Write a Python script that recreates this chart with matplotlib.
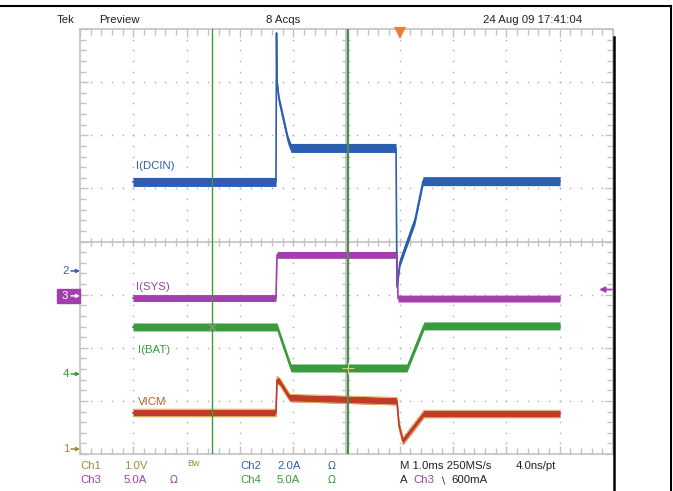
import matplotlib
matplotlib.use('Agg')
import matplotlib.pyplot as plt
from matplotlib.lines import Line2D
from matplotlib.patches import Rectangle
import numpy as np

plt.rcParams['font.family'] = ['Liberation Sans Narrow', 'Liberation Sans', 'DejaVu Sans']

# time base 1 ms/div, trigger at t = 0
t_start, t_end = -6.0, 4.0

# channel scale (unit/div) and ground marker (div from bottom)
ch1_scale, ch1_ground = 1.0, 0.094   # VICM [V]
ch2_scale, ch2_ground = 2.0, 3.446   # I(DCIN) [A]
ch3_scale, ch3_ground = 5.0, 2.976   # I(SYS) [A]
ch4_scale, ch4_ground = 5.0, 1.507   # I(BAT) [A]

# traces (time in ms)
dcin_t = [-5.006, -2.323, -2.313, -2.304, -2.266, -2.098, -2.041, -0.071, -0.053, 0.004, 0.285, 0.435, 3.006]
dcin_a = [3.35, 3.35, 8.96, 7.12, 6.44, 4.93, 4.63, 4.63, -0.6, 0.34, 1.92, 3.38, 3.38]

sys_t = [-5.006, -2.323, -2.304, -0.053, -0.034, 3.006]
sys_a = [-0.2, -0.2, 3.86, 3.86, -0.25, -0.25]

bat_t = [-5.006, -2.304, -2.041, 0.135, 0.454, 3.006]
bat_a = [4.42, 4.42, 0.56, 0.56, 4.52, 4.52]

vicm_t = [-5.006, -2.323, -2.304, -2.248, -2.06, -0.053, -0.015, 0.06, 0.454, 3.006]
vicm_v = [0.68, 0.68, 1.30, 1.26, 0.96, 0.90, 0.45, 0.15, 0.66, 0.66]

grey = '#c2c2c2'
c_blue = '#2d5fb0'
c_purple = '#a23fac'
c_green = '#3a9a3e'
c_red = '#c23a28'
c_olive = '#a08a3a'

fig = plt.figure(figsize=(6.73, 4.91), dpi=100)
ax = fig.add_axes([80/673, 1-454/491, 533/673, 425/491])
ax.set_xlim(t_start, t_end)
ax.set_ylim(0, 8)

# graticule
for s in ax.spines.values():
    s.set_color(grey)
    s.set_linewidth(1.2)
ax.set_xticks(np.arange(t_start, t_end + 0.01, 1))
ax.set_xticks(np.arange(t_start, t_end + 0.01, 0.2), minor=True)
ax.set_yticks(np.arange(0, 8.01, 1))
ax.set_yticks(np.arange(0, 8.01, 0.2), minor=True)
ax.tick_params(which='both', direction='in', top=True, right=True,
               labelbottom=False, labelleft=False, color=grey, width=1)
ax.tick_params(which='major', length=6)
ax.tick_params(which='minor', length=4)

dots_y = np.arange(0.2, 8, 0.2)
dots_x = t_start + np.arange(0.2, 10, 0.2)
for k in range(1, 10):
    if k != 5:
        ax.plot([t_start + k] * len(dots_y), dots_y, ls='none', marker='s', ms=1.1, color='#b4b4b4', mew=0)
for j in range(1, 8):
    if j != 4:
        ax.plot(dots_x, [j] * len(dots_x), ls='none', marker='s', ms=1.1, color='#b4b4b4', mew=0)

ax.axhline(4, color=grey, lw=1.2)
ax.axvline(-1, color=grey, lw=1.2)
ax.plot(dots_x, [4] * len(dots_x), ls='none', marker='|', ms=6, mew=1, color=grey)
ax.plot([-1] * len(dots_y), dots_y, ls='none', marker='_', ms=6, mew=1, color=grey)


def trace(t, v, scale, ground, color, half, edge=None):
    y = ground + np.array(v) / scale
    ax.fill_between(t, y - half, y + half, color=color, lw=0, zorder=3)
    if edge:
        ax.plot(t, y - half, color=edge, lw=0.7, zorder=3)
        ax.plot(t, y + half, color=edge, lw=0.7, zorder=3)
    ax.plot(t, y, color=color, lw=1.2, zorder=4)


trace(dcin_t, dcin_a, ch2_scale, ch2_ground, c_blue, 0.085)
trace(sys_t, sys_a, ch3_scale, ch3_ground, c_purple, 0.065)
trace(bat_t, bat_a, ch4_scale, ch4_ground, c_green, 0.075)
trace(vicm_t, vicm_v, ch1_scale, ch1_ground, c_red, 0.07, edge='#d8b868')

# cursors
ax.axvline(-3.52, color='#3f9a3f', lw=1, zorder=5)
ax.axvline(-0.97, color='#4a8f4a', lw=1.6, zorder=5)
ax.plot(-3.52, ch4_ground + bat_a[0] / ch4_scale, marker='x', ms=6, color='#8aa08a', mew=0.8, zorder=6)
ax.plot(-0.97, ch4_ground + bat_a[2] / ch4_scale, marker='+', ms=8, color='#d8d070', mew=0.8, zorder=6)

# trigger marker and level arrow
ax.plot(0, 7.93, marker='v', ms=8, color='#f07a30', mew=0, clip_on=False, zorder=6)
ax.annotate('', xy=(3.74, ch3_ground + 0.6 / ch3_scale), xytext=(3.98, ch3_ground + 0.6 / ch3_scale),
            arrowprops=dict(arrowstyle='-|>', color=c_purple, lw=1.3, mutation_scale=8, shrinkA=0, shrinkB=0),
            annotation_clip=False)

# trace labels
fs = 8.2
ax.text(-4.94, 5.42, 'I(DCIN)', color=c_blue, fontsize=fs, va='center')
ax.text(-4.94, 3.15, 'I(SYS)', color=c_purple, fontsize=fs, va='center')
ax.text(-4.92, 1.96, 'I(BAT)', color=c_green, fontsize=fs, va='center')
ax.text(-4.92, 0.98, 'VICM', color='#b85a28', fontsize=fs, va='center')

# channel ground markers on the left
px = 1 / 533
for lab, g, col in [('2', ch2_ground, c_blue), ('4', ch4_ground, c_green), ('1', ch1_ground, c_olive)]:
    ax.text(-11 * px, g, lab, color=col, fontsize=fs, ha='right', va='center', transform=ax.get_yaxis_transform(), clip_on=False)
    ax.annotate('', xy=(0, g), xytext=(-9 * px, g), xycoords=('axes fraction', 'data'),
                arrowprops=dict(arrowstyle='-|>', color=col, lw=1.1, mutation_scale=5, shrinkA=0, shrinkB=0),
                annotation_clip=False)
ax.add_patch(Rectangle((-23 * px, ch3_ground - 7 / 53.1), 23 * px, 14 / 53.1, transform=ax.get_yaxis_transform(),
                       color=c_purple, clip_on=False, zorder=5))
ax.text(-15 * px, ch3_ground, '3', color='white', fontsize=fs, ha='center', va='center',
        transform=ax.get_yaxis_transform(), clip_on=False, zorder=6)
ax.annotate('', xy=(0, ch3_ground), xytext=(-9 * px, ch3_ground), xycoords=('axes fraction', 'data'),
            arrowprops=dict(arrowstyle='-|>', color='white', lw=1.1, mutation_scale=5, shrinkA=0, shrinkB=0),
            annotation_clip=False, zorder=6)


# header and status lines
def ftext(x, y, s, color='#222222', size=fs, **kw):
    fig.text(x / 673, 1 - y / 491, s, color=color, fontsize=size, va='center', **kw)


ftext(57, 20, 'Tek')
ftext(99, 20, 'Preview')
ftext(283, 20, '8 Acqs', ha='center')
ftext(483, 20, '24 Aug 09 17:41:04')

ftext(80, 466, 'Ch1', c_olive)
ftext(124, 466, '1.0V', c_olive)
ftext(187, 463, 'Bw', c_olive, size=6.5)
ftext(240, 466, 'Ch2', c_blue)
ftext(277, 466, '2.0A', c_blue)
ftext(328, 466, '\u03a9', c_blue, family='DejaVu Sans', size=7.5)
ftext(400, 466, 'M 1.0ms 250MS/s')
ftext(516, 466, '4.0ns/pt')

ftext(80, 480, 'Ch3', c_purple)
ftext(124, 480, '5.0A', c_purple)
ftext(170, 480, '\u03a9', c_purple, family='DejaVu Sans', size=7.5)
ftext(240, 480, 'Ch4', c_green)
ftext(277, 480, '5.0A', c_green)
ftext(328, 480, '\u03a9', c_green, family='DejaVu Sans', size=7.5)
ftext(400, 480, 'A')
ftext(413, 480, 'Ch3', c_purple)
ftext(439, 481, '\u2216', family='DejaVu Sans', size=7)
ftext(451, 480, '600mA')

# scan frame
fig.add_artist(Line2D([0, 671 / 673], [1 - 6 / 491] * 2, transform=fig.transFigure, color='black', lw=1.5))
fig.add_artist(Line2D([671 / 673] * 2, [1 - 6 / 491, 0], transform=fig.transFigure, color='black', lw=1.5))
fig.add_artist(Line2D([614 / 673] * 2, [1 - 37 / 491, 0], transform=fig.transFigure, color='black', lw=1.8))

fig.savefig('out.png', dpi=100)
